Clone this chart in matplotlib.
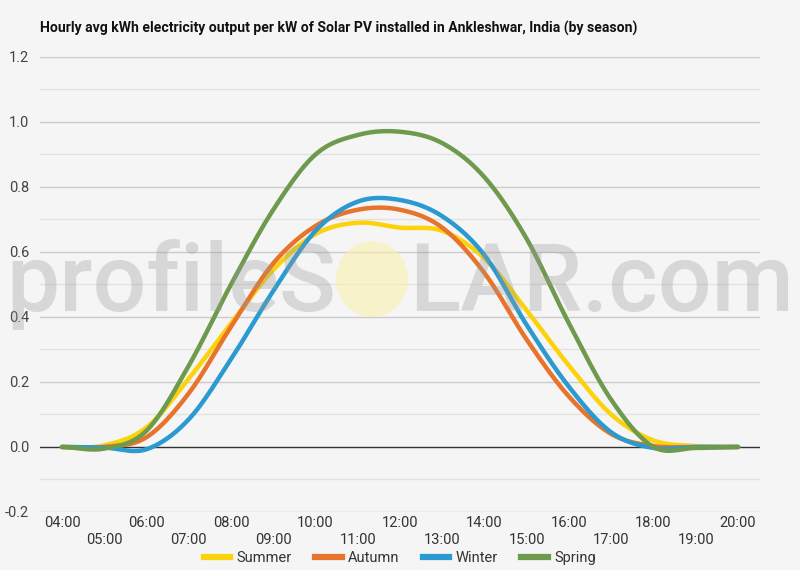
import numpy as np
import matplotlib
matplotlib.use("Agg")
import matplotlib.pyplot as plt
from matplotlib.patches import Ellipse
from matplotlib.lines import Line2D

plt.rcParams['font.family'] = ['Roboto', 'DejaVu Sans']

hours = list(range(4, 21))
hour_labels = [f"{h:02d}:00" for h in hours]

summer = [0.0, 0.005, 0.06, 0.21, 0.38, 0.545, 0.655, 0.69, 0.675, 0.665, 0.58, 0.42, 0.25, 0.10, 0.02, 0.003, 0.0]
autumn = [0.0, 0.0, 0.03, 0.165, 0.37, 0.565, 0.68, 0.73, 0.73, 0.675, 0.535, 0.33, 0.155, 0.04, 0.003, 0.0, 0.0]
winter = [0.0, -0.002, -0.007, 0.085, 0.27, 0.48, 0.665, 0.755, 0.76, 0.71, 0.59, 0.375, 0.185, 0.045, -0.003, 0.0, 0.0]
spring = [0.0, -0.005, 0.05, 0.25, 0.50, 0.73, 0.90, 0.96, 0.97, 0.935, 0.83, 0.64, 0.38, 0.145, 0.0, -0.003, 0.0]

series = ["Summer", "Autumn", "Winter", "Spring"]
colors = ["#fcd20a", "#e8732a", "#2a9ad0", "#6e9a4e"]

BG = "#f5f5f5"


def smooth(x, y, n=20):
    # catmull-rom style curve through the points (like curveType 'function')
    x = np.asarray(x, float)
    y = np.asarray(y, float)
    px = np.concatenate([[2 * x[0] - x[1]], x, [2 * x[-1] - x[-2]]])
    py = np.concatenate([[y[0]], y, [y[-1]]])
    xs, ys = [], []
    for i in range(1, len(px) - 2):
        t = np.linspace(0, 1, n, endpoint=False)
        for p, out in ((px, xs), (py, ys)):
            p0, p1, p2, p3 = p[i - 1], p[i], p[i + 1], p[i + 2]
            out.extend(0.5 * ((2 * p1) + (-p0 + p2) * t
                              + (2 * p0 - 5 * p1 + 4 * p2 - p3) * t ** 2
                              + (-p0 + 3 * p1 - 3 * p2 + p3) * t ** 3))
    xs.append(x[-1])
    ys.append(y[-1])
    return np.array(xs), np.array(ys)


fig = plt.figure(figsize=(8, 5.7), dpi=100, facecolor=BG)
ax = fig.add_axes([0.05, 0.1018, 0.90, 0.7982])
ax.set_facecolor(BG)

# watermark, drawn over the lines like the original
wm_y = 1 - 311 / 570
fig.text(336 / 800, wm_y, "profileS", ha="right", va="baseline",
         fontsize=68, fontweight="medium", color="#9a9a9a", alpha=0.33, zorder=5)
fig.text(409 / 800, wm_y, "LAR.com", ha="left", va="baseline",
         fontsize=68, fontweight="medium", color="#9a9a9a", alpha=0.33, zorder=5)
fig.patches.append(Ellipse((372 / 800, 1 - 279 / 570), 72 / 800, 76 / 570,
                           transform=fig.transFigure, facecolor="#fbf0b0",
                           edgecolor="none", alpha=0.6, zorder=5))

ax.set_xlim(3.48, 20.52)
ax.set_ylim(-0.2, 1.2)
for v in np.arange(-0.2, 1.21, 0.1):
    major = abs(round(v * 10) % 2) == 0
    if abs(v) < 1e-9:
        continue
    ax.axhline(v, color="#cccccc" if major else "#e2e2e2", lw=1, zorder=1)
ax.axhline(0, color="#333333", lw=1, zorder=2)

for name, vals, c in zip(series, [summer, autumn, winter, spring], colors):
    sx, sy = smooth(hours, vals)
    ax.plot(sx, sy, color=c, lw=3.2, solid_capstyle="round", zorder=3)

for s in ax.spines.values():
    s.set_visible(False)

ax.set_yticks(np.arange(-0.2, 1.21, 0.2))
ax.set_yticklabels([f"{v:.1f}" for v in np.arange(-0.2, 1.21, 0.2)])
ax.tick_params(axis="y", length=0, pad=8, labelsize=10.5, labelcolor="#444444")
ax.set_xticks(hours)
ax.set_xticklabels([lab if i % 2 == 0 else "\n" + lab for i, lab in enumerate(hour_labels)])
ax.tick_params(axis="x", length=0, pad=3, labelsize=10.5, labelcolor="#333333")
for lab in ax.get_xticklabels():
    lab.set_linespacing(1.25)

fig.text(0.05, 1 - 28 / 570, "Hourly avg kWh electricity output per kW of Solar PV installed in Ankleshwar, India (by season)",
         ha="left", va="center", fontsize=10.05, fontweight="bold", color="#111111")

handles = [Line2D([0], [0], color=c, lw=4.5) for c in colors]
fig.legend(handles, series, loc="center", bbox_to_anchor=(0.5, 1 - 558 / 570), ncol=4,
           frameon=False, fontsize=10.5, handlelength=1.8, handletextpad=0.45,
           columnspacing=1.6, labelcolor="#333333")

fig.savefig("out.png", dpi=100, facecolor=BG)
